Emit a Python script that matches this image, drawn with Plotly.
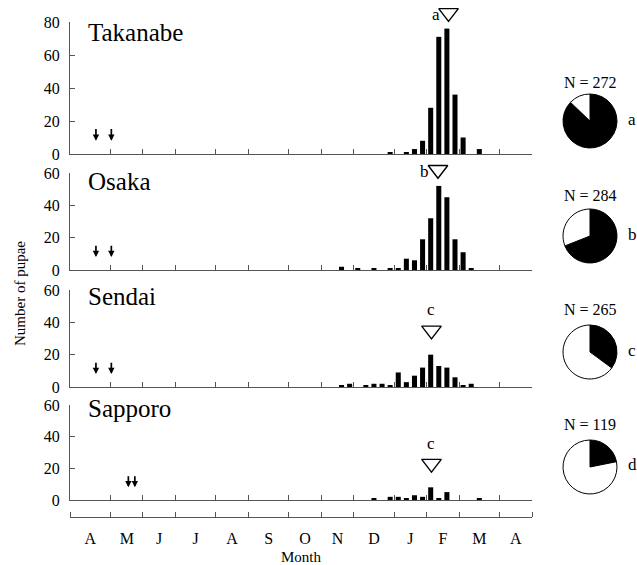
import plotly.graph_objects as go

W, H = 637, 565
FONT = "Liberation Serif, Times New Roman, serif"

# ---------------- data ----------------
sites = ["Takanabe", "Osaka", "Sendai", "Sapporo"]

# weekly bins, week index counted from start of April (0..56)
tak_weeks = [39, 41, 42, 43, 44, 45, 46, 47, 48, 50]
tak_counts = [1, 1, 3, 8, 28, 71, 76, 36, 10, 3]

osa_weeks = [33, 35, 37, 39, 40, 41, 42, 43, 44, 45, 46, 47, 48, 49]
osa_counts = [2, 1, 1, 1, 1, 7, 6, 19, 32, 52, 45, 19, 11, 1]

sen_weeks = [33, 34, 36, 37, 38, 39, 40, 41, 42, 43, 44, 45, 46, 47, 48, 49]
sen_counts = [1, 2, 1, 2, 2, 1, 9, 3, 7, 12, 20, 13, 12, 6, 1, 2]

sap_weeks = [37, 39, 40, 41, 42, 43, 44, 45, 46, 50]
sap_counts = [1, 2, 2, 1, 3, 2, 8, 1, 5, 1]

y_max = [80, 60, 60, 60]

# month boundaries (weeks) and labels
month_bounds = [0, 5, 9, 13, 18, 22, 27, 31, 35, 40, 44, 48, 53, 57]
month_labels = ["A", "M", "J", "J", "A", "S", "O", "N", "D", "J", "F", "M", "A"]

# peak markers (open triangles) with letter
peak_x = [46.7, 45.4, 44.6, 44.6]
peak_y = [85.5, 62, 35, 23]
peak_letters = ["a", "b", "c", "c"]

# arrows (release dates) per panel
arrow_x = [[3.2, 5.1], [3.2, 5.1], [3.2, 5.1], [7.2, 8.0]]
arrow_tail = 16
arrow_tip = 8

# pie: N and number of black morph
pie_N = [272, 284, 265, 119]
pie_black = [237, 196, 93, 26]
pie_letters = ["a", "b", "c", "d"]

# ---------------- layout geometry (px) ----------------
panel_px = [(22, 154), (173, 270), (290, 387), (405, 500)]
ext_top_px = [0, 155, 272, 387]  # overlay area for peak markers
x_px = (70, 532)
pie_cx = 590
pie_cy = [121, 236, 352, 467]
pie_r = 27
nlab_y = [82, 195, 309, 425]
title_y = [33, 181, 296, 409]


def px_x(v):
    return v / W


def px_y(v):
    return 1 - v / H


weeks_all = [tak_weeks, osa_weeks, sen_weeks, sap_weeks]
counts_all = [tak_counts, osa_counts, sen_counts, sap_counts]

fig = go.Figure()
annotations = []

for i in range(4):
    ax = "" if i == 0 else str(i + 1)
    ov = str(i + 6)
    fig.add_trace(go.Bar(
        x=[w + 0.5 for w in weeks_all[i]], y=counts_all[i], width=0.62,
        marker=dict(color="black", line=dict(width=0)),
        xaxis="x" + ax, yaxis="y" + ax, hoverinfo="skip", showlegend=False))
    fig.add_trace(go.Scatter(
        x=[peak_x[i]], y=[peak_y[i]], mode="markers",
        marker=dict(symbol="triangle-down-open", size=17,
                    color="black", line=dict(color="black", width=1.4)),
        cliponaxis=False, xaxis="x" + ov, yaxis="y" + ov,
        hoverinfo="skip", showlegend=False))
    # letter by the triangle
    if i < 2:
        annotations.append(dict(
            x=peak_x[i], y=peak_y[i], xref="x" + ov, yref="y" + ov,
            text=peak_letters[i], showarrow=False, xanchor="right",
            yanchor="middle", xshift=-7, yshift=-2,
            font=dict(family=FONT, size=17, color="black")))
    else:
        annotations.append(dict(
            x=peak_x[i], y=peak_y[i], xref="x" + ov, yref="y" + ov,
            text=peak_letters[i], showarrow=False, xanchor="center",
            yanchor="bottom", yshift=9,
            font=dict(family=FONT, size=17, color="black")))
    # arrows
    for xa in arrow_x[i]:
        annotations.append(dict(
            x=xa, y=arrow_tip, ax=xa, ay=arrow_tail,
            xref="x" + ax, yref="y" + ax, axref="x" + ax, ayref="y" + ax,
            text="", showarrow=True, arrowhead=2, arrowsize=0.75,
            arrowwidth=1.7, arrowcolor="black"))
    # site title
    annotations.append(dict(
        x=px_x(86), y=px_y(title_y[i]), xref="paper", yref="paper",
        text=sites[i], showarrow=False, xanchor="left", yanchor="middle",
        font=dict(family=FONT, size=25, color="black")))
    # pie
    fig.add_trace(go.Pie(
        values=[pie_black[i], pie_N[i] - pie_black[i]],
        marker=dict(colors=["black", "white"], line=dict(color="black", width=1)),
        sort=False, direction="clockwise", rotation=0, textinfo="none",
        hoverinfo="skip", showlegend=False,
        domain=dict(x=[px_x(pie_cx - pie_r), px_x(pie_cx + pie_r)],
                    y=[px_y(pie_cy[i] + pie_r), px_y(pie_cy[i] - pie_r)])))
    annotations.append(dict(
        x=px_x(pie_cx), y=px_y(nlab_y[i]), xref="paper", yref="paper",
        text=f"N = {pie_N[i]}", showarrow=False, xanchor="center",
        yanchor="middle", font=dict(family=FONT, size=16, color="black")))
    annotations.append(dict(
        x=px_x(626), y=px_y(pie_cy[i] - 2), xref="paper", yref="paper",
        text=pie_letters[i], showarrow=False, xanchor="left",
        yanchor="middle", font=dict(family=FONT, size=17, color="black")))

# dummy trace for month axis subplot
fig.add_trace(go.Scatter(x=[], y=[], xaxis="x5", yaxis="y5",
                         hoverinfo="skip", showlegend=False))

layout = dict(
    width=W, height=H, margin=dict(l=0, r=0, t=0, b=0, pad=0),
    paper_bgcolor="white", plot_bgcolor="rgba(0,0,0,0)", showlegend=False,
    font=dict(family=FONT, size=16, color="black"),
)

LC = "#555555"
for i in range(4):
    ax = "" if i == 0 else str(i + 1)
    ov = str(i + 6)
    top, bot = panel_px[i]
    layout["xaxis" + ax] = dict(
        domain=[px_x(x_px[0]), px_x(x_px[1])], range=[0, 57],
        anchor="y" + ax, tickmode="array", tickvals=month_bounds,
        ticks="inside", ticklen=5, tickwidth=1, tickcolor=LC,
        showticklabels=False, showline=True, linecolor=LC, linewidth=1.2,
        showgrid=False, zeroline=False, fixedrange=True, automargin=False)
    layout["yaxis" + ax] = dict(
        domain=[px_y(bot), px_y(top)], range=[0, y_max[i]],
        anchor="x" + ax, tickmode="array",
        tickvals=list(range(0, y_max[i] + 1, 20)),
        ticks="inside", ticklen=5, tickwidth=1, tickcolor=LC,
        showline=True, linecolor=LC, linewidth=1.2, ticklabelstandoff=6,
        tickfont=dict(family=FONT, size=16, color="black"),
        showgrid=False, zeroline=False, fixedrange=True, automargin=False)
    # overlay (invisible) axes with same scale, extended upwards
    ext_top = ext_top_px[i]
    rng_top = y_max[i] * (bot - ext_top) / (bot - top)
    layout["xaxis" + ov] = dict(
        domain=[px_x(x_px[0]), px_x(x_px[1])], range=[0, 57],
        anchor="y" + ov, visible=False, fixedrange=True, automargin=False)
    layout["yaxis" + ov] = dict(
        domain=[px_y(bot), px_y(ext_top)], range=[0, rng_top],
        anchor="x" + ov, visible=False, fixedrange=True, automargin=False)

layout["xaxis5"] = dict(
    domain=[px_x(x_px[0]), px_x(x_px[1])], range=[0, 57], anchor="y5",
    tickmode="array",
    tickvals=[(month_bounds[k] + month_bounds[k + 1]) / 2 for k in range(len(month_labels))],
    ticktext=month_labels, ticks="", ticklabelstandoff=7,
    minor=dict(tickmode="array", tickvals=month_bounds, ticks="inside",
               ticklen=5, tickwidth=1, tickcolor=LC, showgrid=False),
    tickfont=dict(family=FONT, size=16, color="black"),
    showline=True, linecolor=LC, linewidth=1.2,
    showgrid=False, zeroline=False, fixedrange=True, automargin=False)
layout["yaxis5"] = dict(domain=[px_y(517), px_y(512)], anchor="x5",
                        visible=False, range=[0, 1], fixedrange=True,
                        automargin=False)

annotations.append(dict(
    x=px_x(20), y=px_y(294), xref="paper", yref="paper",
    text="Number of pupae", textangle=-90, showarrow=False,
    xanchor="center", yanchor="middle",
    font=dict(family=FONT, size=15, color="black")))
annotations.append(dict(
    x=px_x(301), y=px_y(557), xref="paper", yref="paper",
    text="Month", showarrow=False, xanchor="center", yanchor="middle",
    font=dict(family=FONT, size=15, color="black")))

layout["annotations"] = annotations
fig.update_layout(**layout)

fig.write_html("out.html")
